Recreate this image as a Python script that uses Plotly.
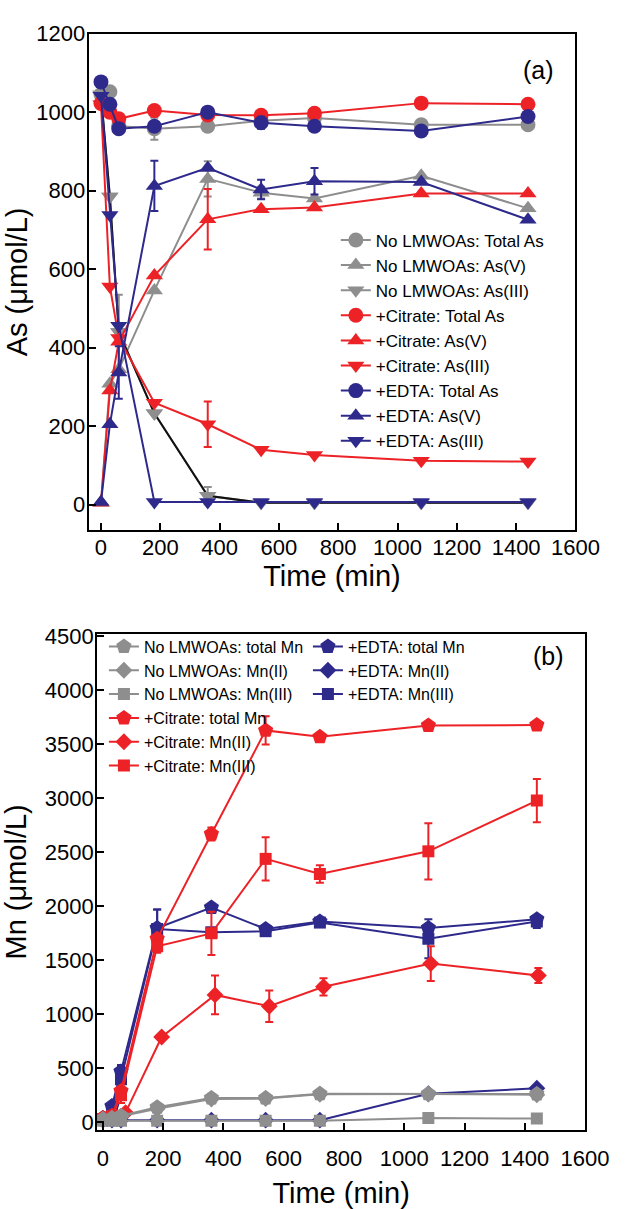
import plotly.graph_objects as go

# ---------------- data: panel (a) arsenic ----------------
t_as = [0, 30, 60, 180, 360, 540, 720, 1080, 1440]

no_total_as = [1045, 1052, 965, 958, 964, 978, 985, 968, 968]
no_total_as_err = [None, None, None, 28, None, 18, None, None, None]
no_as5 = [5, 308, 345, 546, 830, 795, 780, 838, 755]
no_as5_err = [None, None, None, None, 45, 15, None, None, None]
no_as3 = [1045, 785, 440, 233, 23, 5, 5, 5, 5]
no_as3_err = [None, None, 95, None, 22, None, None, None, None]

cit_total_as = [1022, 1000, 983, 1004, 993, 992, 997, 1023, 1020]
cit_as5 = [5, 291, 415, 584, 727, 753, 757, 793, 793]
cit_as5_err = [None, None, None, None, 77, None, None, None, None]
cit_as3 = [1020, 556, 425, 260, 205, 140, 127, 112, 110]
cit_as3_err = [None, None, None, None, 58, None, None, None, None]

edta_total_as = [1077, 1020, 958, 964, 1000, 973, 964, 952, 989]
edta_total_as_err = [None, None, None, None, None, 15, None, None, None]
edta_as5 = [7, 205, 337, 812, 858, 803, 824, 822, 726]
edta_as5_err = [None, None, 67, 64, None, 25, 34, None, None]
edta_as3 = [1042, 738, 456, 7, 7, 7, 7, 7, 7]

# ---------------- data: panel (b) manganese ----------------
t_mn = [0, 30, 60, 180, 360, 540, 720, 1080, 1440]
t_mn_cit2 = [15, 45, 75, 195, 372, 552, 732, 1088, 1445]

no_total_mn = [30, 40, 60, 140, 225, 225, 265, 265, 262]
no_mn2 = [25, 35, 55, 125, 215, 220, 260, 262, 255]
no_mn3 = [15, 15, 15, 15, 15, 15, 15, 40, 35]

cit_total_mn = [40, 60, 290, 1700, 2670, 3630, 3570, 3675, 3680]
cit_total_mn_err = [None, None, None, None, 60, 130, None, None, None]
cit_mn2 = [40, 50, 90, 790, 1180, 1075, 1255, 1470, 1360]
cit_mn2_err = [None, None, None, None, 180, 145, 80, 160, 70]
cit_mn3 = [30, 50, 250, 1630, 1750, 2440, 2300, 2510, 2980]
cit_mn3_err = [None, None, 70, 60, 200, 200, 80, 260, 200]

edta_total_mn = [40, 150, 470, 1800, 1990, 1790, 1860, 1800, 1880]
edta_total_mn_err = [None, None, 60, 170, None, None, None, None, None]
edta_mn2 = [20, 20, 20, 20, 20, 20, 20, 265, 315]
edta_mn3 = [30, 110, 400, 1790, 1760, 1770, 1850, 1700, 1860]
edta_mn3_err = [None, None, 120, 180, None, None, None, 180, 60]

GRAY = "#8E8E8E"
RED = "#EC2227"
BLUE = "#2E2A8C"
FONT = "Liberation Sans, Arial, sans-serif"

fig = go.Figure()


def add(x, y, name, color, symbol, size, xa, ya, legend, err=None,
        linecolor=None, mode="lines+markers", showlegend=True, rank=None):
    kw = {}
    if err is not None:
        kw["error_y"] = dict(type="data", array=err, visible=True,
                             color=color, thickness=2, width=4)
    if rank is not None:
        kw["legendrank"] = rank
    fig.add_trace(go.Scatter(
        x=x, y=y, name=name, mode=mode, xaxis=xa, yaxis=ya,
        legend=legend, showlegend=showlegend,
        line=dict(color=linecolor or color, width=2),
        marker=dict(color=color, symbol=symbol, size=size, line=dict(width=0)),
        **kw))


# panel (a)
add(t_as, no_total_as, "No LMWOAs: Total As", GRAY, "circle", 15, "x", "y", "legend", no_total_as_err)
add(t_as, no_as5, "No LMWOAs: As(V)", GRAY, "triangle-up", 15, "x", "y", "legend", no_as5_err)
add(t_as, no_as3, "No LMWOAs: As(III)", GRAY, "triangle-down", 15, "x", "y", "legend", no_as3_err)
add(t_as, no_as3, "No LMWOAs: As(III) line", GRAY, "triangle-down", 15, "x", "y", "legend",
    linecolor="#111111", mode="lines", showlegend=False)
add(t_as, no_as3, "No LMWOAs: As(III) pts", GRAY, "triangle-down", 15, "x", "y", "legend",
    mode="markers", showlegend=False)
add(t_as, cit_total_as, "+Citrate: Total As", RED, "circle", 15, "x", "y", "legend")
add(t_as, cit_as5, "+Citrate: As(V)", RED, "triangle-up", 15, "x", "y", "legend", cit_as5_err)
add(t_as, cit_as3, "+Citrate: As(III)", RED, "triangle-down", 15, "x", "y", "legend", cit_as3_err)
add(t_as, edta_total_as, "+EDTA: Total As", BLUE, "circle", 15, "x", "y", "legend", edta_total_as_err)
add(t_as, edta_as5, "+EDTA: As(V)", BLUE, "triangle-up", 15, "x", "y", "legend", edta_as5_err)
add(t_as, edta_as3, "+EDTA: As(III)", BLUE, "triangle-down", 15, "x", "y", "legend")

# panel (b) - EDTA drawn first (underneath)
add(t_mn, edta_total_mn, "+EDTA: total Mn", BLUE, "pentagon", 16, "x2", "y2", "legend3", edta_total_mn_err, rank=1)
add(t_mn, edta_mn2, "+EDTA: Mn(II)", BLUE, "diamond", 13, "x2", "y2", "legend3", rank=2)
add(t_mn, edta_mn3, "+EDTA: Mn(III)", BLUE, "square", 12, "x2", "y2", "legend3", edta_mn3_err, rank=3)
add(t_mn, cit_total_mn, "+Citrate: total Mn", RED, "pentagon", 16, "x2", "y2", "legend2", cit_total_mn_err, rank=4)
add(t_mn_cit2, cit_mn2, "+Citrate: Mn(II)", RED, "diamond", 13, "x2", "y2", "legend2", cit_mn2_err, rank=5)
add(t_mn, cit_mn3, "+Citrate: Mn(III)", RED, "square", 12, "x2", "y2", "legend2", cit_mn3_err, rank=6)
add(t_mn, no_total_mn, "No LMWOAs: total Mn", GRAY, "pentagon", 16, "x2", "y2", "legend2", rank=1)
add(t_mn, no_mn2, "No LMWOAs: Mn(II)", GRAY, "diamond", 13, "x2", "y2", "legend2", rank=2)
add(t_mn, no_mn3, "No LMWOAs: Mn(III)", GRAY, "square", 12, "x2", "y2", "legend2", rank=3)

W, H = 636, 1209


def px_x(p):
    return p / W


def px_y(p):
    return 1 - p / H


axis_common = dict(
    showline=True, linecolor="black", linewidth=2, mirror=True,
    ticks="inside", ticklen=7, tickwidth=2, tickcolor="black",
    showgrid=False, zeroline=False,
    tickfont=dict(family=FONT, size=22, color="black"),
    title_font=dict(family=FONT, size=29, color="black"),
)

fig.update_layout(
    width=W, height=H,
    margin=dict(l=0, r=0, t=0, b=0),
    paper_bgcolor="white", plot_bgcolor="white",
    font=dict(family=FONT, color="black"),
    xaxis=dict(domain=[px_x(92), px_x(598)], anchor="y", range=[-42, 1600], dtick=200,
               title=dict(text="Time (min)", standoff=4), ticklabelstandoff=-4, **axis_common),
    yaxis=dict(domain=[px_y(527), px_y(22)], anchor="x", range=[-65, 1200], dtick=200,
               title=dict(text="As (μmol/L)", standoff=0), ticklabelstandoff=-3, **axis_common),
    xaxis2=dict(domain=[px_x(101), px_x(608)], anchor="y2", range=[-19, 1600], dtick=200,
                title=dict(text="Time (min)", standoff=18), ticklabelstandoff=7, **axis_common),
    yaxis2=dict(domain=[px_y(1137), px_y(632)], anchor="x2", range=[-73, 4527], dtick=500,
                title=dict(text="Mn (μmol/L)", standoff=18), ticklabelstandoff=-3, **axis_common),
    legend=dict(x=px_x(349), y=px_y(214), xanchor="left", yanchor="top",
                bgcolor="rgba(0,0,0,0)", borderwidth=0, tracegroupgap=0,
                font=dict(family=FONT, size=17, color="black"), itemwidth=30),
    legend2=dict(x=px_x(108), y=px_y(628), xanchor="left", yanchor="top",
                 bgcolor="rgba(0,0,0,0)", borderwidth=0, tracegroupgap=0,
                 font=dict(family=FONT, size=16, color="black"), itemwidth=30),
    legend3=dict(x=px_x(320), y=px_y(628), xanchor="left", yanchor="top",
                 bgcolor="rgba(0,0,0,0)", borderwidth=0, tracegroupgap=0,
                 font=dict(family=FONT, size=16, color="black"), itemwidth=30),
    annotations=[
        dict(text="(a)", x=px_x(578), y=px_y(43), xref="paper", yref="paper",
             showarrow=False, font=dict(family=FONT, size=25, color="black")),
        dict(text="(b)", x=px_x(588), y=px_y(655), xref="paper", yref="paper",
             showarrow=False, font=dict(family=FONT, size=25, color="black")),
    ],
)

fig.write_html("out.html")
